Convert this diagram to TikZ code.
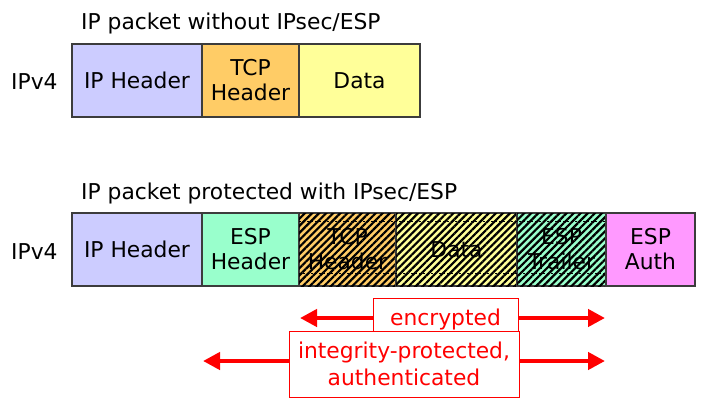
\documentclass[tikz,border=0pt]{standalone}
\usepackage{fontspec}
\setmainfont{DejaVu Sans}
\usetikzlibrary{arrows.meta,patterns.meta}
\definecolor{iphdr}{RGB}{204,204,255}
\definecolor{tcphdr}{RGB}{255,204,102}
\definecolor{datac}{RGB}{255,255,153}
\definecolor{esphdr}{RGB}{153,255,204}
\definecolor{espauth}{RGB}{255,153,255}
\definecolor{framec}{RGB}{60,60,60}
\tikzset{
  field/.style={draw=framec, line width=1.2pt, inner sep=0pt, outer sep=0pt,
    minimum height=73pt, align=center, font=\fontsize{21.8}{25}\selectfont},
  hatched/.style={postaction={pattern={Lines[angle=45,distance=5pt,line width=2.2pt]}, pattern color=black}},
  lbl/.style={inner sep=0pt, font=\fontsize{21.8}{25}\selectfont},
  redbox/.style={draw=red, line width=0.9pt, fill=white, text=red, inner sep=0pt,
    align=center, font=\fontsize{21.8}{27}\selectfont},
  redarrow/.style={draw=red, line width=4.5pt, {Triangle[length=17pt,width=17pt]}-{Triangle[length=17pt,width=17pt]}}
}
\begin{document}
\begin{tikzpicture}[x=1pt,y=-1pt]
\useasboundingbox (0,0) rectangle (703,405);
% titles
\node[lbl, anchor=base west] (t1) at (81,29) {IP packet without IPsec/ESP};
\node[lbl, anchor=base west] (t2) at (81,199) {IP packet protected with IPsec/ESP};
\node[lbl, anchor=base west] (v1) at (11,89) {IPv4};
\node[lbl, anchor=base west] (v2) at (11,259) {IPv4};
% top packet
\node[field, fill=iphdr, minimum width=130pt] (ip1) at (137,80.5) {IP Header};
\node[field, fill=tcphdr, minimum width=97pt] (tcp1) at (250.5,80.5) {TCP\\Header};
\node[field, fill=datac, minimum width=121pt] (data1) at (359.5,80.5) {Data};
% bottom packet
\node[field, fill=iphdr, minimum width=130pt] (ip2) at (137,249.5) {IP Header};
\node[field, fill=esphdr, minimum width=97pt] (esph) at (250.5,249.5) {ESP\\Header};
\node[field, fill=tcphdr, hatched, minimum width=97pt] (tcp2) at (347.5,249.5) {TCP\\Header};
\node[field, fill=datac, hatched, minimum width=121pt] (data2) at (456.5,249.5) {Data};
\node[field, fill=esphdr, hatched, minimum width=89pt] (espt) at (561.5,249.5) {ESP\\Trailer};
\node[field, fill=espauth, minimum width=89pt] (espa) at (650.5,249.5) {ESP\\Auth};
% dashed inner lines in the encrypted part
\draw[black, line width=0.6pt, dash pattern=on 2pt off 2pt] ([yshift=-8pt]tcp2.north west) -- ([yshift=-8pt]espt.north east);
\draw[black, line width=0.6pt, dash pattern=on 2pt off 2pt] ([yshift=13pt]tcp2.south west) -- ([yshift=13pt]espt.south east);
% arrows and labels
\coordinate (e1) at (300,318);
\coordinate (e2) at (605,318);
\coordinate (i1) at (203,361);
\coordinate (i2) at (605,361);
\draw[redarrow] (e1) -- (e2);
\node[redbox, minimum width=145pt, minimum height=42pt] (enc) at (445.5,319) {encrypted};
\draw[redarrow] (i1) -- (i2);
\node[redbox, minimum width=230pt, minimum height=66pt] (integ) at (404,364) {integrity-protected,\\authenticated};
\end{tikzpicture}
\end{document}
